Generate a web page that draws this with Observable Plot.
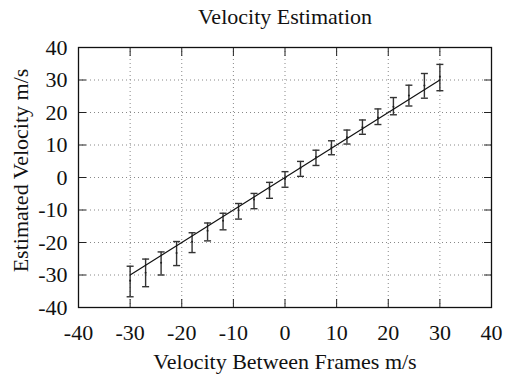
<!DOCTYPE html>
<html>
<head>
<meta charset="utf-8">
<script src="https://cdn.jsdelivr.net/npm/d3@7"></script>
<script src="https://cdn.jsdelivr.net/npm/@observablehq/plot@0.6"></script>
<style>
  html, body { margin: 0; padding: 0; background: #fff; }
  svg { display: block; }
  svg text { font-family: "Liberation Serif", "Times New Roman", serif !important; }
</style>
</head>
<body>
<div id="chart"></div>
<script>
const title = "Velocity Estimation";
const xLabel = "Velocity Between Frames m/s";
const yLabel = "Estimated Velocity m/s";

const trueVel = [-30, -27, -24, -21, -18, -15, -12, -9, -6, -3, 0, 3, 6, 9, 12, 15, 18, 21, 24, 27, 30];
const estMean = [-31.8, -29.3, -26.2, -23.2, -19.8, -16.4, -13.3, -10.1, -6.8, -3.6, -0.4, 2.9, 6.3, 9.3, 12.4, 15.5, 18.5, 21.8, 25.2, 28.3, 31.0];
const estLow  = [-36.7, -33.6, -30.0, -27.1, -23.1, -19.5, -16.1, -12.8, -9.6, -6.4, -3.0, 0.35, 3.7, 7.0, 10.3, 13.3, 16.3, 19.3, 22.0, 24.4, 26.7];
const estHigh = [-27.3, -25.1, -22.9, -19.7, -17.0, -14.0, -11.0, -8.0, -4.9, -1.5, 1.8, 4.95, 8.4, 11.3, 14.6, 17.7, 21.1, 24.6, 28.4, 32.0, 34.8];

const lineX = [-30, 30];
const lineY = [-30, 30];

const xTicks = [-40, -30, -20, -10, 0, 10, 20, 30, 40];
const xTickLabels = ["-40", "-30", "-20", "-10", "0", "10", "20", "30", "40"];
const yTicks = [-40, -30, -20, -10, 0, 10, 20, 30, 40];
const yTickLabels = ["-40", "-30", "-20", "-10", "0", "10", "20", "30", "40"];
const gridX = [-30, -20, -10, 0, 10, 20, 30];
const gridY = [-30, -20, -10, 0, 10, 20, 30];

const pts = trueVel.map((x, i) => ({x, y: estMean[i], lo: estLow[i], hi: estHigh[i]}));
const line = lineX.map((x, i) => ({x, y: lineY[i]}));

const font = "Liberation Serif";
const fs = 22;

const capSymbol = {
  draw(context) {
    context.moveTo(-3.5, 0);
    context.lineTo(3.5, 0);
  }
};

const chart = Plot.plot({
  width: 506,
  height: 377,
  marginLeft: 78,
  marginRight: 15,
  marginTop: 47,
  marginBottom: 70,
  style: {fontFamily: font, fontSize: fs + "px", color: "#111", background: "#fff"},
  x: {type: "linear", domain: [-40, 40]},
  y: {type: "linear", domain: [-40, 40]},
  marks: [
    Plot.gridX(gridX, {stroke: "#888", strokeOpacity: 1, strokeDasharray: "1,3", strokeWidth: 1}),
    Plot.gridY(gridY, {stroke: "#888", strokeOpacity: 1, strokeDasharray: "1,3", strokeWidth: 1}),
    Plot.axisX(xTicks, {anchor: "bottom", tickSize: -8, tickFormat: () => "", stroke: "#222", label: null}),
    Plot.axisX(xTicks, {anchor: "top", tickSize: -8, tickFormat: () => "", stroke: "#222", label: null}),
    Plot.axisY(yTicks, {anchor: "left", tickSize: -8, tickFormat: () => "", stroke: "#222", label: null}),
    Plot.axisY(yTicks, {anchor: "right", tickSize: -8, tickFormat: () => "", stroke: "#222", label: null}),
    Plot.axisX(xTicks, {anchor: "bottom", tickSize: 0, tickPadding: 17, fontSize: fs, fontFamily: font, tickFormat: (d, i) => xTickLabels[i], label: null, fill: "#111"}),
    Plot.axisY(yTicks, {anchor: "left", tickSize: 0, tickPadding: 11, fontSize: fs, fontFamily: font, tickFormat: (d, i) => yTickLabels[i], label: null, fill: "#111"}),
    Plot.ruleX(pts, {x: "x", y1: "lo", y2: "hi", stroke: "#333", strokeWidth: 1.4}),
    Plot.dot(pts, {x: "x", y: "lo", symbol: capSymbol, stroke: "#333", strokeWidth: 1.4, fill: "none"}),
    Plot.dot(pts, {x: "x", y: "hi", symbol: capSymbol, stroke: "#333", strokeWidth: 1.4, fill: "none"}),
    Plot.line(line, {x: "x", y: "y", stroke: "#111", strokeWidth: 1.2}),
    Plot.dot(pts, {x: "x", y: "y", r: 1, fill: "#222", stroke: "none"}),
    Plot.frame({stroke: "#111", strokeWidth: 1.3}),
    Plot.text([title], {frameAnchor: "top", dy: -24, lineAnchor: "bottom", fontSize: fs, fontFamily: font, fill: "#111"}),
    Plot.text([xLabel], {frameAnchor: "bottom", dy: 61, lineAnchor: "bottom", fontSize: fs, fontFamily: font, fill: "#111"}),
    Plot.text([yLabel], {frameAnchor: "left", textAnchor: "middle", dx: -58, dy: -7, rotate: -90, fontSize: fs, fontFamily: font, fill: "#111"})
  ]
});
document.getElementById("chart").appendChild(chart);
</script>
</body>
</html>
